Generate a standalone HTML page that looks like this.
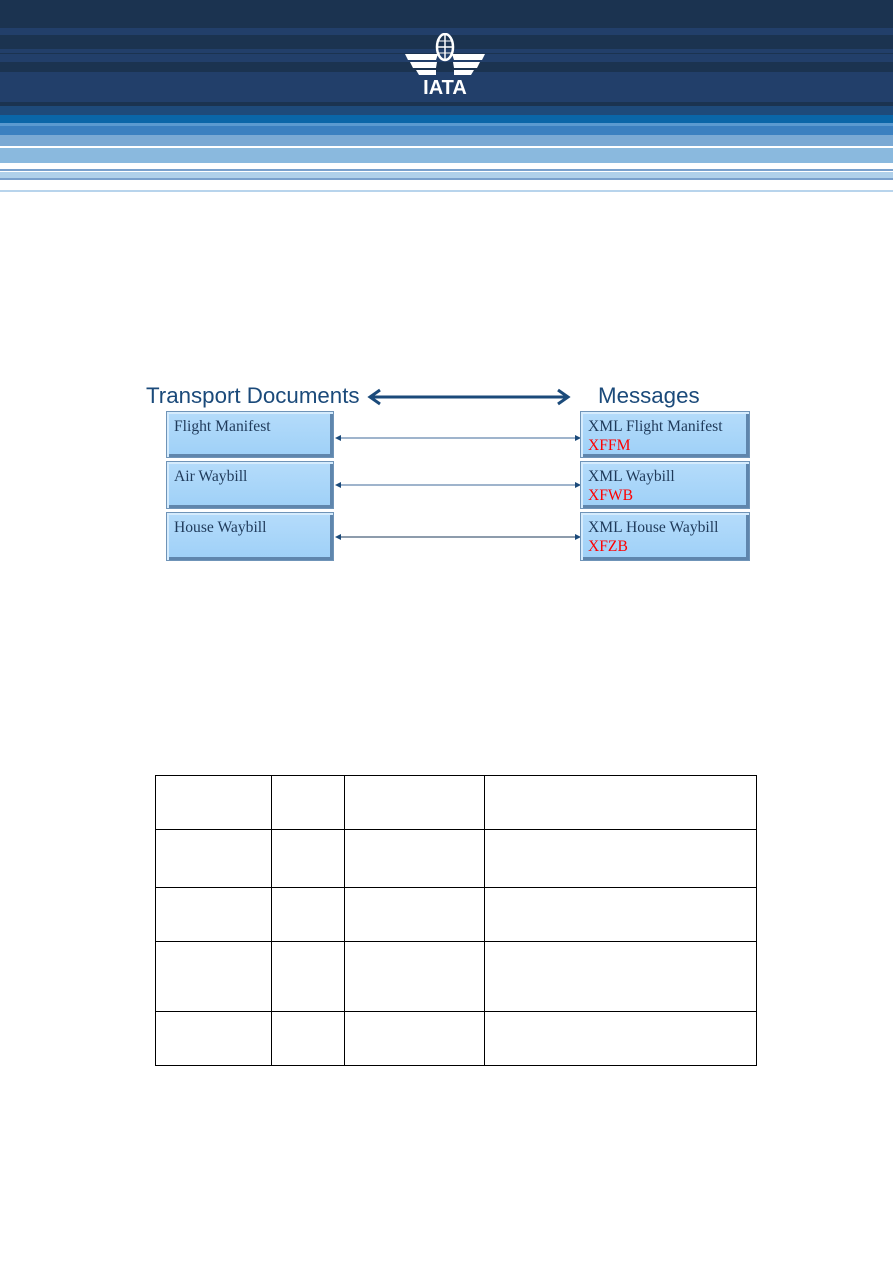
<!DOCTYPE html>
<html><head><style>
body{margin:0;width:893px;height:1263px;background:#fff;position:relative;overflow:hidden;font-family:"Liberation Serif",serif}
.s{position:absolute;left:0;width:893px}
.b{position:absolute;background:linear-gradient(#b5dcfb,#9ed0f7);border:1px solid #6f94b8;box-shadow:inset 2px 2px 0 #d6ecfd,inset -3px -3px 0 #5f86ad;box-sizing:border-box;padding:5px 7px;font-size:15.6px;color:#1f3a5a;line-height:19px}
.r{color:#f00}
.t{position:absolute;font-family:"Liberation Sans",sans-serif;font-size:22.3px;color:#1b4a7a}
table{position:absolute;left:155px;top:775px;border-collapse:collapse}
td{border:1px solid #000;padding:0}
</style></head><body>
<div class="s" style="top:0;height:102px;background:#1b3350"></div>
<div class="s" style="top:28px;height:7px;background:#223f6a"></div>
<div class="s" style="top:49px;height:4px;background:#223f6a"></div>
<div class="s" style="top:54px;height:8px;background:#223f6a"></div>
<div class="s" style="top:72px;height:30px;background:#223f6a"></div>
<div class="s" style="top:102px;height:4px;background:#1b3350"></div>
<div class="s" style="top:106px;height:9px;background:#1e4a7a"></div>
<div class="s" style="top:115px;height:8px;background:#0a66a8"></div>
<div class="s" style="top:123px;height:3px;background:#5a9ad0"></div>
<div class="s" style="top:126px;height:9px;background:#3b80c0"></div>
<div class="s" style="top:135px;height:11px;background:#7aa9d4"></div>
<div class="s" style="top:146px;height:2px;background:#fff"></div>
<div class="s" style="top:148px;height:15px;background:#8ab9de"></div>
<div class="s" style="top:169px;height:2px;background:#7aa0cc"></div>
<div class="s" style="top:172px;height:6px;background:#b0d0ea"></div>
<div class="s" style="top:178px;height:2px;background:#7aa0cc"></div>
<div class="s" style="top:190px;height:2px;background:#b8d4ec"></div>
<svg style="position:absolute;left:400px;top:33px" width="90" height="62">
<ellipse cx="45" cy="14" rx="8" ry="13" fill="none" stroke="#fff" stroke-width="2.5"/>
<line x1="45" y1="1" x2="45" y2="27" stroke="#fff" stroke-width="1.5"/>
<line x1="37" y1="14" x2="53" y2="14" stroke="#fff" stroke-width="1.5"/>
<line x1="38" y1="8" x2="52" y2="8" stroke="#fff" stroke-width="1"/>
<line x1="38" y1="20" x2="52" y2="20" stroke="#fff" stroke-width="1"/>
<path d="M38 21 L5 21 L8 27 L36 27Z M37 29 L10 29 L13 35 L36 35Z M36 37 L16 37 L19 42 L36 42Z M52 21 L85 21 L82 27 L54 27Z M53 29 L80 29 L77 35 L54 35Z M54 37 L74 37 L71 42 L54 42Z" fill="#fff"/>
<text x="45" y="61" text-anchor="middle" font-family="Liberation Sans" font-weight="bold" font-size="20" fill="#fff" transform="scale(1,1)">IATA</text>
</svg>
<div class="t" style="left:146px;top:383px">Transport Documents</div>
<div class="t" style="left:598px;top:383px">Messages</div>
<svg style="position:absolute;left:0;top:0" width="893" height="600">
<defs><marker id="m" markerWidth="6" markerHeight="6" refX="5" refY="3" orient="auto-start-reverse"><path d="M0,0L6,3L0,6Z" fill="#1b4a7a"/></marker></defs>
<line x1="372" y1="397" x2="566" y2="397" stroke="#1b4a7a" stroke-width="3"/>
<path d="M380 390 L370 397 L380 404" fill="none" stroke="#1b4a7a" stroke-width="3"/>
<path d="M558 390 L568 397 L558 404" fill="none" stroke="#1b4a7a" stroke-width="3"/>
<line x1="336" y1="438" x2="580" y2="438" stroke="#3f6a98" stroke-width="1" marker-start="url(#m)" marker-end="url(#m)"/>
<line x1="336" y1="485" x2="580" y2="485" stroke="#3f6a98" stroke-width="1" marker-start="url(#m)" marker-end="url(#m)"/>
<line x1="336" y1="537" x2="580" y2="537" stroke="#1b3a5a" stroke-width="1" marker-start="url(#m)" marker-end="url(#m)"/>
</svg>
<div class="b" style="left:166px;top:411px;width:168px;height:47px">Flight Manifest</div>
<div class="b" style="left:166px;top:461px;width:168px;height:48px">Air Waybill</div>
<div class="b" style="left:166px;top:512px;width:168px;height:49px">House Waybill</div>
<div class="b" style="left:580px;top:411px;width:170px;height:47px">XML Flight Manifest<br><span class="r">XFFM</span></div>
<div class="b" style="left:580px;top:461px;width:170px;height:48px">XML Waybill<br><span class="r">XFWB</span></div>
<div class="b" style="left:580px;top:512px;width:170px;height:49px">XML House Waybill<br><span class="r">XFZB</span></div>
<table>
<tr style="height:54px"><td style="width:115px"></td><td style="width:72px"></td><td style="width:139px"></td><td style="width:271px"></td></tr>
<tr style="height:58px"><td></td><td></td><td></td><td></td></tr>
<tr style="height:54px"><td></td><td></td><td></td><td></td></tr>
<tr style="height:70px"><td></td><td></td><td></td><td></td></tr>
<tr style="height:54px"><td></td><td></td><td></td><td></td></tr>
</table>
</body></html>
